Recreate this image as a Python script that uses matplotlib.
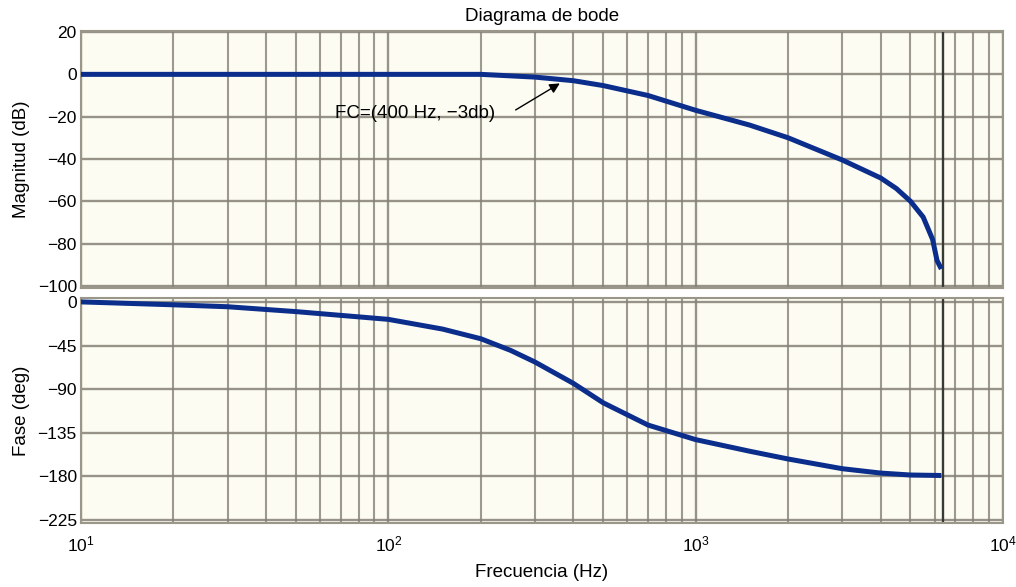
import matplotlib
matplotlib.use("Agg")
import matplotlib.pyplot as plt
from matplotlib.ticker import LogLocator, FixedLocator, NullFormatter

plt.rcParams['font.family'] = ['Liberation Sans', 'DejaVu Sans']
plt.rcParams['mathtext.fontset'] = 'custom'
plt.rcParams['mathtext.rm'] = 'Liberation Sans'
plt.rcParams['mathtext.it'] = 'Liberation Sans'
plt.rcParams['axes.unicode_minus'] = True

# ---- data ----
freq_mag = [10, 200, 300, 400, 500, 700, 1000, 1500, 2000, 3000, 4000, 4500,
            5000, 5500, 5900, 6100, 6300]
mag_db = [0, 0, -1.3, -3, -5.3, -10, -17, -24, -30, -40.5, -49, -54,
          -60, -67.5, -78, -88, -92]

freq_phase = [10, 20, 30, 50, 100, 150, 200, 250, 300, 400, 500, 700, 1000,
              1500, 2000, 3000, 4000, 5000, 6300]
phase_deg = [0, -3, -5, -10, -18, -28, -38, -50, -62, -84, -104, -127, -142,
             -154, -162, -172, -176.5, -178.5, -179]

mag_ticks = [20, 0, -20, -40, -60, -80, -100]
phase_ticks = [0, -45, -90, -135, -180, -225]
marker_freq = 6380  # dark vertical reference line

line_color = '#0b2d8c'
grid_color = '#858176'
bg_color = '#fdfcf2'

fig = plt.figure(figsize=(10.16, 5.87), dpi=100)
ax1 = fig.add_axes([0.0797, 0.5094, 0.9075, 0.4378])
ax2 = fig.add_axes([0.0797, 0.1090, 0.9075, 0.3833])

for ax in (ax1, ax2):
    ax.set_facecolor(bg_color)
    ax.set_xscale('log')
    ax.set_xlim(10, 1e4)
    ax.xaxis.set_major_locator(LogLocator(base=10, numticks=10))
    ax.xaxis.set_minor_locator(LogLocator(base=10, subs=range(2, 10), numticks=100))
    ax.xaxis.set_minor_formatter(NullFormatter())
    ax.grid(True, which='major', color=grid_color, lw=1.7, alpha=0.85)
    ax.grid(True, which='minor', axis='x', color=grid_color, lw=1.5, alpha=0.8)
    ax.axvline(marker_freq, color='#3a3a35', lw=1.7, zorder=1.5)
    ax.tick_params(which='both', length=0, labelsize=12.5, pad=3)
    for s in ax.spines.values():
        s.set_color('#9a968a')
        s.set_linewidth(1.5)
    ax.set_axisbelow(True)

ax1.plot(freq_mag, mag_db, color=line_color, lw=3.6, solid_capstyle='butt', zorder=3)
ax1.set_ylim(-101, 20.5)
ax1.yaxis.set_major_locator(FixedLocator(mag_ticks))
ax1.tick_params(axis='x', labelbottom=False)
ax1.set_ylabel('Magnitud (dB)', fontsize=13.5, labelpad=5.5)
ax1.set_title('Diagrama de bode', fontsize=13.5, pad=7.5)

ax1.annotate('', xy=(368, -3.6), xytext=(255, -17.5),
             arrowprops=dict(arrowstyle='-|>', color='black', lw=1.0,
                             mutation_scale=15), zorder=4)
ax1.text(67, -18.6, 'FC=(400 Hz, \u22123db)', fontsize=13.5, va='center', ha='left')

ax2.plot(freq_phase, phase_deg, color=line_color, lw=3.6, solid_capstyle='butt', zorder=3)
ax2.set_ylim(-228, 4)
ax2.yaxis.set_major_locator(FixedLocator(phase_ticks))
ax2.set_ylabel('Fase (deg)', fontsize=13.5, labelpad=5.5)
ax2.set_xlabel('Frecuencia (Hz)', fontsize=13.5, labelpad=7)
ax2.tick_params(axis='x', pad=8)

fig.savefig('out.png', dpi=100)
